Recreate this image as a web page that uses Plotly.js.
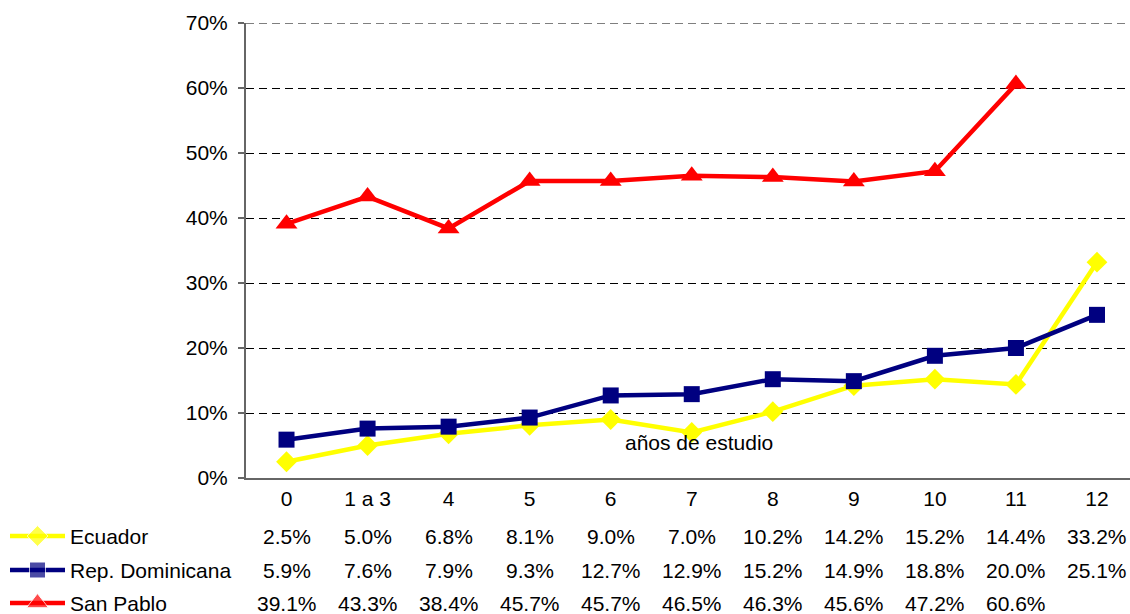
<!DOCTYPE html>
<html>
<head>
<meta charset="utf-8">
<script src="https://cdn.plot.ly/plotly-3.0.1.min.js"></script>
<style>html,body{margin:0;padding:0;background:#fff;}#chart{width:1130px;height:614px;}</style>
</head>
<body>
<div id="chart"></div>
<script>
// ---- data ----
var categories = ["0", "1 a 3", "4", "5", "6", "7", "8", "9", "10", "11", "12"];
var seriesNames = ["Ecuador", "Rep. Dominicana", "San Pablo"];
var ecuador = [2.5, 5.0, 6.8, 8.1, 9.0, 7.0, 10.2, 14.2, 15.2, 14.4, 33.2];
var repDominicana = [5.9, 7.6, 7.9, 9.3, 12.7, 12.9, 15.2, 14.9, 18.8, 20.0, 25.1];
var sanPablo = [39.1, 43.3, 38.4, 45.7, 45.7, 46.5, 46.3, 45.6, 47.2, 60.6, null];
var yTicks = [0, 10, 20, 30, 40, 50, 60, 70];
var yTickText = ["0%", "10%", "20%", "30%", "40%", "50%", "60%", "70%"];
var xTitle = "años de estudio";

// ---- layout constants ----
var W = 1130, H = 614;
var FONT = "Liberation Sans, Arial, sans-serif";
var FS = 21;
var plotBottomFrac = 136 / 591;          // paper fraction where plot area starts
var rowY = [78 / 591, 44 / 591, 11 / 591]; // table rows (paper units)
var colors = ["#FFFF00", "#000080", "#FF0000"];
var symbols = ["diamond", "square", "triangle-up"];
var msizes = [16, 16, 19];
var allSeries = [ecuador, repDominicana, sanPablo];
var xIdx = categories.map(function (c, i) { return i; });
var yMax = yTicks[yTicks.length - 1];

var traces = [];
allSeries.forEach(function (s, k) {
  traces.push({
    x: xIdx, y: s, type: "scatter", mode: "lines+markers",
    name: seriesNames[k], showlegend: false, connectgaps: false,
    line: { color: colors[k], width: 4.5 },
    marker: { color: colors[k], symbol: symbols[k], size: msizes[k] },
    xaxis: "x", yaxis: "y", hoverinfo: "skip"
  });
  // legend key sample
  traces.push({
    x: [0, 0.5, 1], y: [rowY[k], rowY[k], rowY[k]], type: "scatter", mode: "lines+markers",
    showlegend: false, cliponaxis: false,
    line: { color: colors[k], width: 4.5 },
    marker: { color: colors[k], symbol: symbols[k], size: [0, msizes[k], 0] },
    xaxis: "x2", yaxis: "y2", hoverinfo: "skip"
  });
});

var annotations = [];
// x title (drawn inside plot like the reference)
annotations.push({
  text: xTitle, xref: "x", yref: "y", x: 5.09, y: 5.4, showarrow: false,
  font: { family: FONT, size: FS, color: "#000" }, xanchor: "center", yanchor: "middle"
});
// legend labels and data table
allSeries.forEach(function (s, k) {
  annotations.push({
    text: seriesNames[k], xref: "paper", yref: "paper", x: 68 / W, y: rowY[k],
    xanchor: "left", yanchor: "middle", showarrow: false,
    font: { family: FONT, size: FS, color: "#000" }
  });
  s.forEach(function (v, i) {
    if (v === null) return;
    annotations.push({
      text: v.toFixed(1) + "%", xref: "x", yref: "paper", x: i, y: rowY[k],
      xanchor: "center", yanchor: "middle", showarrow: false,
      font: { family: FONT, size: FS, color: "#000" }
    });
  });
});

var layout = {
  width: W, height: H,
  margin: { l: 0, r: 0, t: 23, b: 0 },
  paper_bgcolor: "#fff", plot_bgcolor: "#fff",
  font: { family: FONT, size: FS, color: "#000" },
  showlegend: false,
  xaxis: {
    domain: [246 / W, 1], range: [-0.5, (W - 287) / 81],
    tickvals: xIdx, ticktext: categories, ticks: "", showgrid: false, zeroline: false,
    showline: true, linecolor: "#666666", linewidth: 2, ticklabelstandoff: 1,
    tickfont: { family: FONT, size: FS, color: "#000" }, fixedrange: true
  },
  yaxis: {
    domain: [plotBottomFrac, 1], range: [0, yMax], tickvals: yTicks, ticktext: yTickText,
    showgrid: true, gridcolor: "#000", gridwidth: 1, griddash: "8px,5px",
    zeroline: false, showline: true, linecolor: "#666666", linewidth: 2,
    ticks: "outside", ticklen: 6, tickcolor: "#666666", tickwidth: 1.5,
    ticklabelstandoff: 6,
    tickfont: { family: FONT, size: FS, color: "#000" }, fixedrange: true
  },
  xaxis2: { domain: [10 / W, 65 / W], range: [0, 1], visible: false, fixedrange: true },
  yaxis2: { domain: [0, plotBottomFrac], range: [0, plotBottomFrac], visible: false, fixedrange: true },
  shapes: [{
    type: "line", xref: "x domain", yref: "y", x0: 0, x1: 1, y0: yMax, y1: yMax,
    line: { color: "#000", width: 1, dash: "8px,5px" }, layer: "below"
  }],
  annotations: annotations
};

Plotly.newPlot("chart", traces, layout, { staticPlot: true, displayModeBar: false });
</script>
</body>
</html>
